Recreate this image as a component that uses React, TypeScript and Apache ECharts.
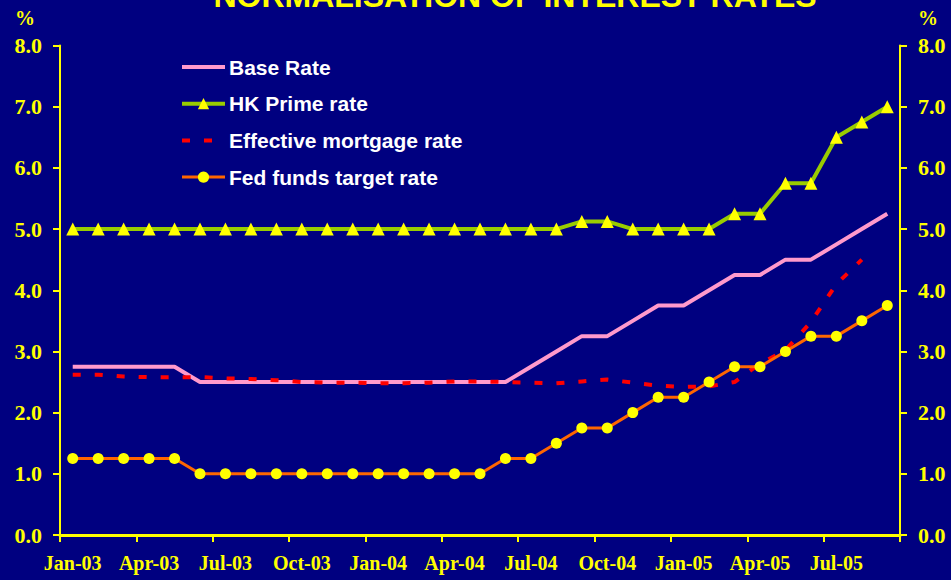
import React, { useEffect, useRef } from "react";
import * as echarts from "echarts";

const months = [
  "Jan-03", "Feb-03", "Mar-03", "Apr-03", "May-03", "Jun-03", "Jul-03", "Aug-03", "Sep-03", "Oct-03", "Nov-03", "Dec-03",
  "Jan-04", "Feb-04", "Mar-04", "Apr-04", "May-04", "Jun-04", "Jul-04", "Aug-04", "Sep-04", "Oct-04", "Nov-04", "Dec-04",
  "Jan-05", "Feb-05", "Mar-05", "Apr-05", "May-05", "Jun-05", "Jul-05", "Aug-05", "Sep-05",
];

const baseRate = [
  2.75, 2.75, 2.75, 2.75, 2.75, 2.5, 2.5, 2.5, 2.5, 2.5, 2.5, 2.5,
  2.5, 2.5, 2.5, 2.5, 2.5, 2.5, 2.75, 3.0, 3.25, 3.25, 3.5, 3.75,
  3.75, 4.0, 4.25, 4.25, 4.5, 4.5, 4.75, 5.0, 5.25,
];

const hkPrime = [
  5.0, 5.0, 5.0, 5.0, 5.0, 5.0, 5.0, 5.0, 5.0, 5.0, 5.0, 5.0,
  5.0, 5.0, 5.0, 5.0, 5.0, 5.0, 5.0, 5.0, 5.125, 5.125, 5.0, 5.0,
  5.0, 5.0, 5.25, 5.25, 5.75, 5.75, 6.5, 6.75, 7.0,
];

const mortgageRate = [
  2.62, 2.62, 2.59, 2.58, 2.58, 2.58, 2.56, 2.55, 2.53, 2.5, 2.49, 2.49,
  2.48, 2.48, 2.49, 2.51, 2.51, 2.5, 2.49, 2.48, 2.51, 2.54, 2.49, 2.44,
  2.42, 2.43, 2.5, 2.8, 3.02, 3.48, 4.1, 4.5, null,
];

const fedFunds = [
  1.25, 1.25, 1.25, 1.25, 1.25, 1.0, 1.0, 1.0, 1.0, 1.0, 1.0, 1.0,
  1.0, 1.0, 1.0, 1.0, 1.0, 1.25, 1.25, 1.5, 1.75, 1.75, 2.0, 2.25,
  2.25, 2.5, 2.75, 2.75, 3.0, 3.25, 3.25, 3.5, 3.75,
];

const seriesNames = ["Base Rate", "HK Prime rate", "Effective mortgage rate", "Fed funds target rate"];
const titleText = "NORMALISATION OF INTEREST RATES";

const YELLOW = "#FFFF00";
const NAVY = "#000080";

export default function App() {
  const ref = useRef<HTMLDivElement>(null);

  useEffect(() => {
    document.body.style.margin = "0";
    if (!ref.current) return;
    const chart = echarts.init(ref.current, undefined, { renderer: "svg" });

    const yAxisCommon = {
      type: "value",
      min: 0,
      max: 8,
      interval: 1,
      splitLine: { show: false },
      axisLine: { show: true, lineStyle: { color: YELLOW, width: 2 } },
      axisTick: { show: true, length: 7, lineStyle: { color: YELLOW, width: 2 } },
      axisLabel: {
        color: YELLOW,
        fontFamily: "Liberation Serif",
        fontWeight: "bold",
        fontSize: 22,
        margin: 18,
        formatter: (v: number) => v.toFixed(1),
      },
    };

    chart.setOption({
      animation: false,
      backgroundColor: NAVY,
      grid: { left: 60, right: 51, top: 45.5, bottom: 45, containLabel: false },
      legend: {
        data: [
          { name: seriesNames[0], itemStyle: { opacity: 0 }, lineStyle: { width: 4, color: "#FF99CC" } },
          { name: seriesNames[1], lineStyle: { width: 4, color: "#99CC00" } },
          { name: seriesNames[2], itemStyle: { opacity: 0 }, lineStyle: { width: 4, color: "#FF0000", type: [8, 14] } },
          { name: seriesNames[3], lineStyle: { width: 3, color: "#FF6600" } },
        ],
        orient: "vertical",
        left: 180,
        top: 56,
        padding: 0,
        itemWidth: 43,
        itemHeight: 14,
        itemGap: 14.7,
        textStyle: {
          color: "#FFFFFF",
          fontFamily: "Liberation Sans",
          fontWeight: "bold",
          fontSize: 21,
          lineHeight: 22,
          padding: [0, 0, 0, -1],
        },
      },
      xAxis: {
        type: "category",
        data: months,
        boundaryGap: true,
        axisLine: { show: true, lineStyle: { color: YELLOW, width: 3 } },
        axisTick: { show: true, interval: 2, length: 7, lineStyle: { color: YELLOW, width: 2 } },
        axisLabel: {
          interval: 2,
          color: YELLOW,
          fontFamily: "Liberation Serif",
          fontWeight: "bold",
          fontSize: 20,
          margin: 18,
        },
        splitLine: { show: false },
      },
      yAxis: [
        { ...yAxisCommon, position: "left" },
        { ...yAxisCommon, position: "right" },
      ],
      graphic: [
        {
          type: "text",
          x: 515,
          y: -4,
          style: {
            text: titleText,
            fill: YELLOW,
            font: "bold 32px 'Liberation Sans'",
            align: "center",
            verticalAlign: "middle",
          },
        },
        {
          type: "text",
          x: 25,
          y: 18,
          style: {
            text: "%",
            fill: YELLOW,
            font: "bold 20px 'Liberation Serif'",
            align: "center",
            verticalAlign: "middle",
          },
        },
        {
          type: "text",
          x: 928,
          y: 18,
          style: {
            text: "%",
            fill: YELLOW,
            font: "bold 20px 'Liberation Serif'",
            align: "center",
            verticalAlign: "middle",
          },
        },
      ],
      series: [
        {
          name: seriesNames[0],
          type: "line",
          data: baseRate,
          symbol: "none",
          lineStyle: { color: "#FF99CC", width: 4 },
          itemStyle: { color: "#FF99CC" },
        },
        {
          name: seriesNames[1],
          type: "line",
          data: hkPrime,
          symbol: "triangle",
          symbolSize: 13,
          lineStyle: { color: "#99CC00", width: 4 },
          itemStyle: { color: YELLOW, borderWidth: 0 },
        },
        {
          name: seriesNames[2],
          type: "line",
          data: mortgageRate,
          symbol: "none",
          lineStyle: { color: "#FF0000", width: 4, type: [8, 14] },
          itemStyle: { color: "#FF0000" },
        },
        {
          name: seriesNames[3],
          type: "line",
          data: fedFunds,
          symbol: "circle",
          symbolSize: 11,
          lineStyle: { color: "#FF6600", width: 3 },
          itemStyle: { color: YELLOW, borderWidth: 0 },
        },
      ],
    });

    return () => chart.dispose();
  }, []);

  return (
    <div
      ref={ref}
      style={{ position: "absolute", left: 0, top: 0, width: 951, height: 580 }}
    />
  );
}
